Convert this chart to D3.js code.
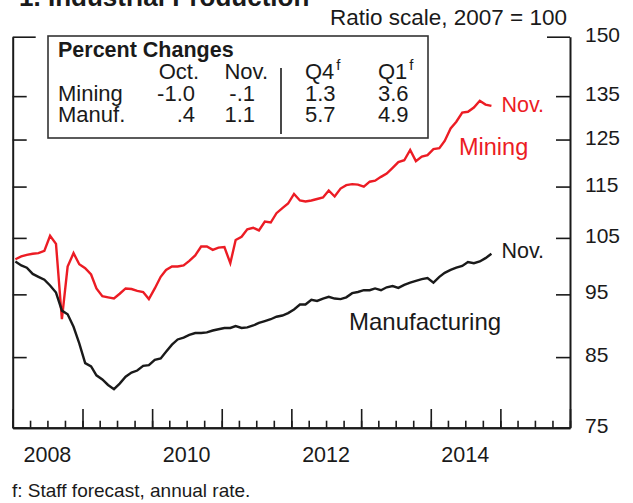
<!DOCTYPE html>
<html>
<head>
<meta charset="utf-8">
<script src="https://cdn.jsdelivr.net/npm/d3@7"></script>
<style>
  body { margin: 0; background: #fff; }
  svg { display: block; font-family: "Liberation Sans", Arial, Helvetica, sans-serif; }
</style>
</head>
<body>
<div class="chart"></div>
<script>
// Index levels, monthly from Jan 2008 to Nov 2014 (2007 = 100)
var mining = [
  101.1, 101.6, 101.9, 102.1, 102.2, 102.6, 105.4, 103.9, 90.9, 99.8, 102.2, 100.2,
  99.5, 98.4, 96.0, 94.7, 94.5, 94.3, 95.1, 96.0, 95.9, 95.6, 95.4, 94.2,
  96.0, 98.0, 99.2, 99.8, 99.8, 100.0, 100.8, 101.8, 103.4, 103.4, 102.8, 103.2,
  103.3, 100.4, 104.6, 105.2, 106.6, 106.9, 106.4, 108.1, 107.9, 109.7, 110.7, 111.6,
  113.5, 112.2, 112.0, 112.2, 112.5, 112.8, 114.2, 113.0, 114.6, 115.3, 115.5, 115.4,
  115.0, 116.0, 116.2, 117.0, 117.7, 118.9, 120.1, 120.5, 122.7, 120.3, 121.3, 121.6,
  122.9, 123.1, 124.7, 127.5, 129.0, 131.1, 131.3, 132.3, 133.9, 133.0, 132.7
];
var manuf = [
  100.7, 100.0, 99.6, 98.5, 98.0, 97.5, 96.5, 95.3, 92.3, 91.7, 89.7, 87.1,
  84.1, 83.6, 82.3, 81.7, 80.9, 80.3, 81.1, 82.1, 82.7, 83.0, 83.7, 83.8,
  84.6, 84.8, 85.8, 86.9, 87.7, 88.0, 88.4, 88.7, 88.7, 88.8, 89.1, 89.3,
  89.5, 89.5, 89.8, 89.5, 89.6, 89.9, 90.3, 90.6, 90.9, 91.3, 91.5, 91.9,
  92.5, 93.3, 93.3, 94.1, 93.9, 94.3, 94.6, 94.3, 94.2, 94.5, 95.2, 95.4,
  95.7, 95.7, 96.0, 95.7, 96.2, 96.4, 96.1, 96.6, 97.0, 97.3, 97.6, 97.8,
  97.0, 98.0, 98.7, 99.2, 99.6, 99.9, 100.6, 100.4, 100.7, 101.3, 102.1
];
var firstMonth = new Date(2008, 0, 1);
var yTicks = [75, 85, 95, 105, 115, 125, 135, 150];
var yearLabels = [2008, 2010, 2012, 2014];

// table
var tableRows = ["Mining", "Manuf."];
var tableMonths = ["Oct.", "Nov."];
var tableQuarters = ["Q4", "Q1"];
var tableValues = [
  ["-1.0", "-.1", "1.3", "3.6"],
  [".4", "1.1", "5.7", "4.9"]
];

var red = "#ec1c24";
var ink = "#1a1a1a";

var svg = d3.select('.chart')
  .append('svg')
  .attr('width', 633)
  .attr('height', 503);

var x = d3.scaleTime()
  .domain([new Date(2008, 0, 1), new Date(2016, 0, 1)])
  .range([12.7, 570]);

var y = d3.scaleLog()
  .domain([75, 150])
  .range([427.7, 36.7]);

var months = mining.map(function(d, i) { return d3.timeMonth.offset(firstMonth, i); });
var midMonth = function(d) { return x(d3.timeDay.offset(d, 14)); };

// title (cut off at the top, as in the source)
svg.append('text')
  .attr('x', 19).attr('y', 6)
  .style('font-size', '26px').style('font-weight', 'bold')
  .attr('fill', ink)
  .text('1. Industrial Production');

svg.append('text')
  .attr('x', 567).attr('y', 25)
  .attr('text-anchor', 'end')
  .style('font-size', '22.5px')
  .attr('fill', ink)
  .text('Ratio scale, 2007 = 100');

// axes
var rightAxis = d3.axisRight(y)
  .tickValues(yTicks)
  .tickFormat(d3.format('d'))
  .tickSizeInner(-14)
  .tickSizeOuter(0)
  .tickPadding(15);

var gRight = svg.append('g')
  .attr('transform', 'translate(570,0)')
  .call(rightAxis);

var leftAxis = d3.axisLeft(y)
  .tickValues(yTicks)
  .tickFormat('')
  .tickSizeInner(-14)
  .tickSizeOuter(0);

var gLeft = svg.append('g')
  .attr('transform', 'translate(12.7,0)')
  .call(leftAxis);

var minorAxis = d3.axisBottom(x)
  .ticks(d3.timeMonth.every(3))
  .tickFormat('')
  .tickSizeInner(-7)
  .tickSizeOuter(0);

svg.append('g')
  .attr('class', 'minor')
  .attr('transform', 'translate(0,427.7)')
  .call(minorAxis);

var majorAxis = d3.axisBottom(x)
  .ticks(d3.timeYear.every(1))
  .tickFormat('')
  .tickSizeInner(-18.7)
  .tickSizeOuter(0);

svg.append('g')
  .attr('transform', 'translate(0,427.7)')
  .call(majorAxis);

svg.selectAll('.domain').attr('stroke', ink).attr('stroke-width', 2);
svg.selectAll('.tick line').attr('stroke', ink).attr('stroke-width', 1.6);
gRight.selectAll('.tick text')
  .attr('fill', ink)
  .style('font-size', '21px')
  .style('font-family', '"Liberation Sans", Arial, sans-serif')
  .attr('dy', null)
  .attr('y', 4.5);

// longer tick at the top of each side
gRight.selectAll('.tick line').filter(function(d) { return d === 150; }).attr('x2', -23);
gLeft.selectAll('.tick line').filter(function(d) { return d === 150; }).attr('x2', 23);

// year labels at mid-year
svg.selectAll('.year')
  .data(yearLabels)
  .enter()
  .append('text')
  .attr('x', function(d) { return x(new Date(d, 6, 1)); })
  .attr('y', 462)
  .attr('text-anchor', 'middle')
  .style('font-size', '21.5px')
  .attr('fill', ink)
  .text(function(d) { return d; });

// lines
var line = d3.line()
  .x(function(d, i) { return midMonth(months[i]); })
  .y(function(d) { return y(d); });

svg.append('path')
  .datum(mining)
  .attr('d', line)
  .attr('fill', 'none')
  .attr('stroke', red)
  .attr('stroke-width', 2.4)
  .attr('stroke-linejoin', 'miter');

svg.append('path')
  .datum(manuf)
  .attr('d', line)
  .attr('fill', 'none')
  .attr('stroke', ink)
  .attr('stroke-width', 2.4)
  .attr('stroke-linejoin', 'miter');

// series labels
var lastX = midMonth(months[months.length - 1]);
svg.append('text')
  .attr('x', lastX + 10).attr('y', 112)
  .style('font-size', '21.5px').attr('fill', red)
  .text('Nov.');
svg.append('text')
  .attr('x', 459).attr('y', 155)
  .style('font-size', '23.5px').attr('fill', red)
  .text('Mining');
svg.append('text')
  .attr('x', lastX + 10).attr('y', 258)
  .style('font-size', '21.5px').attr('fill', ink)
  .text('Nov.');
svg.append('text')
  .attr('x', 349).attr('y', 330)
  .style('font-size', '24px').attr('fill', ink)
  .text('Manufacturing');

// table box
var table = svg.append('g');
table.append('rect')
  .attr('x', 48).attr('y', 36)
  .attr('width', 380).attr('height', 102)
  .attr('fill', '#fff')
  .attr('stroke', '#333')
  .attr('stroke-width', 1.6);

table.append('line')
  .attr('x1', 281).attr('x2', 281)
  .attr('y1', 68).attr('y2', 134)
  .attr('stroke', ink).attr('stroke-width', 1.6);

table.append('text')
  .attr('x', 58).attr('y', 57)
  .style('font-size', '21.5px').style('font-weight', 'bold')
  .attr('fill', ink)
  .text('Percent Changes');

var monthRight = [199, 268];
var valRight = [195, 255];
var quarterLeft = [305, 378];

tableMonths.forEach(function(m, j) {
  table.append('text')
    .attr('x', monthRight[j]).attr('y', 79)
    .attr('text-anchor', 'end')
    .style('font-size', '22px').attr('fill', ink)
    .text(m);
});

tableQuarters.forEach(function(q, j) {
  var t = table.append('text')
    .attr('x', quarterLeft[j]).attr('y', 79)
    .style('font-size', '22px').attr('fill', ink)
    .text(q);
  t.append('tspan')
    .attr('dx', 2)
    .attr('dy', -9)
    .style('font-size', '15px')
    .text('f');
});

tableRows.forEach(function(r, i) {
  var by = 101 + i * 21;
  table.append('text')
    .attr('x', 58).attr('y', by)
    .style('font-size', '22px').attr('fill', ink)
    .text(r);
  tableValues[i].forEach(function(v, j) {
    var t = table.append('text')
      .attr('y', by)
      .style('font-size', '22px').attr('fill', ink)
      .text(v);
    if (j < 2) {
      t.attr('x', valRight[j]).attr('text-anchor', 'end');
    } else {
      t.attr('x', quarterLeft[j - 2]);
    }
  });
});

// footnote
svg.append('text')
  .attr('x', 12).attr('y', 497)
  .style('font-size', '19px')
  .attr('fill', ink)
  .text('f: Staff forecast, annual rate.');
</script>
</body>
</html>
